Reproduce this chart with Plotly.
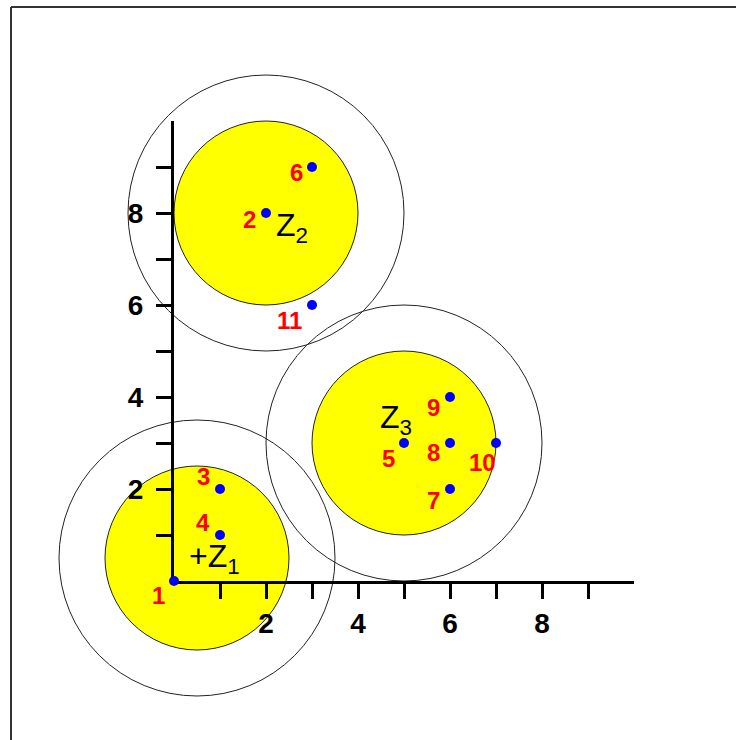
import plotly.graph_objects as go

# points (id, x, y)
point_ids = [1, 2, 3, 4, 5, 6, 7, 8, 9, 10, 11]
point_x = [0, 2, 1, 1, 5, 3, 6, 6, 6, 7, 3]
point_y = [0, 8, 2, 1, 3, 9, 2, 3, 4, 3, 6]

# cluster centres and radii
center_names = ["Z<sub>1</sub>", "Z<sub>2</sub>", "Z<sub>3</sub>"]
center_x = [0.5, 2, 5]
center_y = [0.5, 8, 3]
inner_r = 2
outer_r = 3

major_ticks = [2, 4, 6, 8]
minor_ticks = [1, 3, 5, 7, 9]

# label placement in pixels (dx right, dy down)
label_offsets = [(-16, 14), (-17, 6), (-17, -13), (-17, -13), (-16, 15), (-16, 5),
                 (-17, 11), (-17, 9), (-17, 10), (-14, 19), (-23, 15)]
# centre label placement: (xanchor, yanchor, dx, dy down)
center_label_pos = [("left", "middle", -10, 0), ("left", "middle", 8, 14), ("right", "middle", 10, -24)]

W, H = 736, 740
PX = 46          # pixels per unit
X0, Y0 = 174, 581  # pixel position of the origin

FONT = "Arial, Liberation Sans, sans-serif"

fig = go.Figure()

# the points sit on the small subplot so they are drawn above its axis lines
fig.add_trace(go.Scatter(
    x=point_x, y=point_y, mode="markers",
    marker=dict(color="#0000ff", size=10),
    xaxis="x2", yaxis="y2", cliponaxis=False, showlegend=False, hoverinfo="skip"
))

shapes = []
for cx, cy in zip(center_x, center_y):
    shapes.append(dict(type="circle", xref="x", yref="y", layer="below",
                       x0=cx - outer_r, x1=cx + outer_r, y0=cy - outer_r, y1=cy + outer_r,
                       line=dict(color="#222222", width=1)))
for cx, cy in zip(center_x, center_y):
    shapes.append(dict(type="circle", xref="x", yref="y", layer="below",
                       x0=cx - inner_r, x1=cx + inner_r, y0=cy - inner_r, y1=cy + inner_r,
                       fillcolor="#ffff00", line=dict(color="#222222", width=1)))

# page frame (top and left edges)
fy = 1 - 7 / H
fx = 11 / W
shapes.append(dict(type="line", xref="paper", yref="paper", x0=fx, x1=1, y0=fy, y1=fy,
                   line=dict(color="#333333", width=2)))
shapes.append(dict(type="line", xref="paper", yref="paper", x0=fx, x1=fx, y0=fy, y1=0,
                   line=dict(color="#333333", width=2)))

annotations = []
for pid, px, py, (dx, dy) in zip(point_ids, point_x, point_y, label_offsets):
    annotations.append(dict(x=px, y=py, xref="x", yref="y", text=str(pid), showarrow=False,
                            xshift=dx, yshift=-dy,
                            font=dict(family=FONT, size=24, color="#ff0000", weight="bold")))

for name, cx, cy, (xa, ya, dx, dy) in zip(center_names, center_x, center_y, center_label_pos):
    text = "+" + name if name.endswith("1</sub>") else name
    annotations.append(dict(x=cx, y=cy, xref="x", yref="y", text=text, showarrow=False,
                            xanchor=xa, yanchor=ya, xshift=dx, yshift=-dy,
                            font=dict(family=FONT, size=32, color="#000000")))

axis_common = dict(showgrid=False, zeroline=False, showline=True, linecolor="black",
                   linewidth=3, ticks="outside", ticklen=15, tickwidth=3, tickcolor="black",
                   tickvals=major_ticks, layer="below traces",
                   minor=dict(tickvals=minor_ticks, ticks="outside", ticklen=15,
                              tickwidth=3, tickcolor="black", showgrid=False),
                   tickfont=dict(family=FONT, size=28, color="black", weight="bold"),
                   fixedrange=True)

fig.update_layout(
    width=W, height=H,
    margin=dict(l=0, r=0, t=0, b=0),
    paper_bgcolor="white",
    plot_bgcolor="rgba(0,0,0,0)",
    showlegend=False,
    xaxis=dict(domain=[0, 1], range=[-X0 / PX, (W - X0) / PX], visible=False, fixedrange=True),
    yaxis=dict(domain=[0, 1], range=[(Y0 - H) / PX, Y0 / PX], visible=False, fixedrange=True),
    xaxis2=dict(domain=[X0 / W, (X0 + 10 * PX) / W], range=[0, 10], anchor="y2",
                ticklabelstandoff=0, **axis_common),
    yaxis2=dict(domain=[1 - Y0 / H, 1 - (Y0 - 10 * PX) / H], range=[0, 10], anchor="x2",
                ticklabelstandoff=7, **axis_common),
    shapes=shapes,
    annotations=annotations,
)

# drop the page margin so the figure fills the window from its top-left corner
fig.write_html("out.html", config={"displayModeBar": False},
               post_script="document.body.style.margin = '0';")
